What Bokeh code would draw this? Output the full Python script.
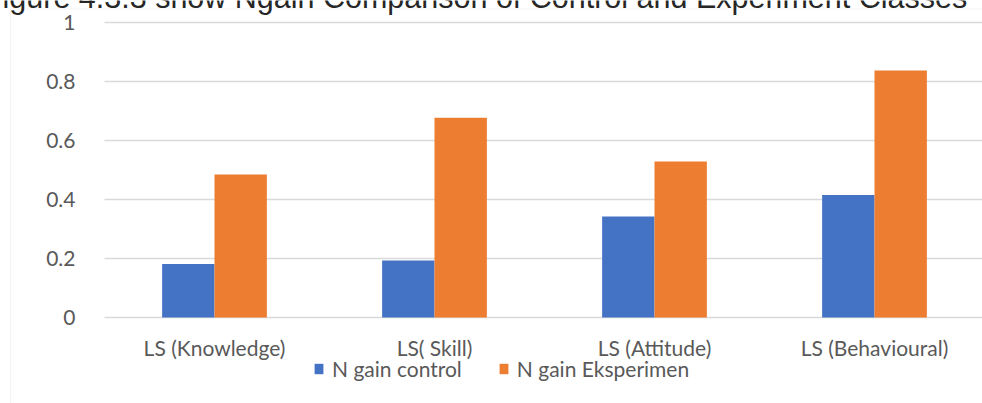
from bokeh.plotting import figure
from bokeh.models import Range1d, FixedTicker, NumeralTickFormatter, Legend, LegendItem, Label, BoxAnnotation
from bokeh.embed import file_html
from bokeh.resources import INLINE
import numpy as np

categories = ["LS (Knowledge)", "LS( Skill)", "LS (Attitude)", "LS (Behavioural)"]
control = [0.181, 0.193, 0.342, 0.415]
eksperimen = [0.485, 0.677, 0.529, 0.837]
y_ticks = [0, 0.2, 0.4, 0.6, 0.8, 1]
series_names = ["N gain control", "N gain Eksperimen"]
title_text = "Figure 4.3.3 show Ngain Comparison of Control and Experiment Classes"

BLUE = "#4472C4"
ORANGE = "#ED7D31"
TXT = "#595959"
GRID = "#d9d9d9"
FONT = "Lato"

W, H = 982, 403
plot_left, plot_bottom = 104, 317      # pixel position of the data origin
cat_px = 220.0                         # pixels per category
y_px = 295.0                           # pixels per unit of N gain

x_start = -plot_left / cat_px
x_end = (W - plot_left) / cat_px
y_start = -(H - plot_bottom) / y_px
y_end = plot_bottom / y_px

p = figure(width=W, height=H, output_backend="svg", toolbar_location=None,
           x_range=Range1d(x_start, x_end), y_range=Range1d(y_start, y_end),
           min_border_left=0, min_border_right=0, min_border_top=0, min_border_bottom=0)
p.outline_line_color = None
p.background_fill_color = "white"
p.border_fill_color = "white"

x = np.arange(len(categories)) + 0.5
bw = 0.238
r1 = p.vbar(x=x - bw / 2, top=control, width=bw, bottom=0, fill_color=BLUE, line_color=None)
r2 = p.vbar(x=x + bw / 2, top=eksperimen, width=bw, bottom=0, fill_color=ORANGE, line_color=None)

# axes (drawn at the data origin, inside the canvas)
xa = p.xaxis[0]
xa.fixed_location = 0
xa.ticker = FixedTicker(ticks=list(x))
xa.major_label_overrides = {float(v): c for v, c in zip(x, categories)}
xa.axis_line_color = None
xa.major_tick_line_color = None
xa.minor_tick_line_color = None
xa.major_label_standoff = 11
xa.major_label_text_font = FONT
xa.major_label_text_font_size = "21px"
xa.major_label_text_color = TXT

ya = p.yaxis[0]
ya.fixed_location = 0
ya.ticker = FixedTicker(ticks=y_ticks)
ya.formatter = NumeralTickFormatter(format="0.[0]")
ya.axis_line_color = None
ya.major_tick_line_color = None
ya.minor_tick_line_color = None
ya.major_label_standoff = 23
ya.major_label_text_font = FONT
ya.major_label_text_font_size = "21px"
ya.major_label_text_color = TXT

p.xgrid.grid_line_color = None
p.ygrid.ticker = FixedTicker(ticks=y_ticks)
p.ygrid.grid_line_color = GRID
p.ygrid.grid_line_width = 1.6
try:
    p.ygrid.cross_bounds = (0, x_end)
except Exception:
    p.ygrid.grid_line_color = None
    p.segment(x0=0, x1=x_end, y0=y_ticks, y1=y_ticks, line_color=GRID, line_width=1.6, level="underlay")

# chart area border (left and top edges visible)
border = BoxAnnotation(left=(10 - plot_left) / cat_px, right=x_end + 1,
                       top=(plot_bottom - 8.5) / y_px, bottom=y_start - 1,
                       fill_alpha=0, line_color=GRID, line_width=1.2)
p.add_layout(border)

# title, cut off at the top edge as in the source
title = Label(x=(-16.6 - plot_left) / cat_px, y=(plot_bottom + 4) / y_px, text=title_text,
              text_font="Liberation Sans", text_font_size="30.5px", text_color="#262626",
              text_baseline="alphabetic", text_align="left")
p.add_layout(title)

legend = Legend(items=[LegendItem(label=series_names[0], renderers=[r1]),
                       LegendItem(label=series_names[1], renderers=[r2])],
                location=(313, 22.5), orientation="horizontal",
                glyph_width=11, glyph_height=13, label_standoff=8, spacing=36,
                padding=0, margin=0, border_line_color=None, background_fill_alpha=0,
                label_text_font=FONT, label_text_font_size="21px", label_text_color=TXT,
                label_height=13)
p.add_layout(legend)

open("out.html", "w").write(file_html(p, INLINE))
